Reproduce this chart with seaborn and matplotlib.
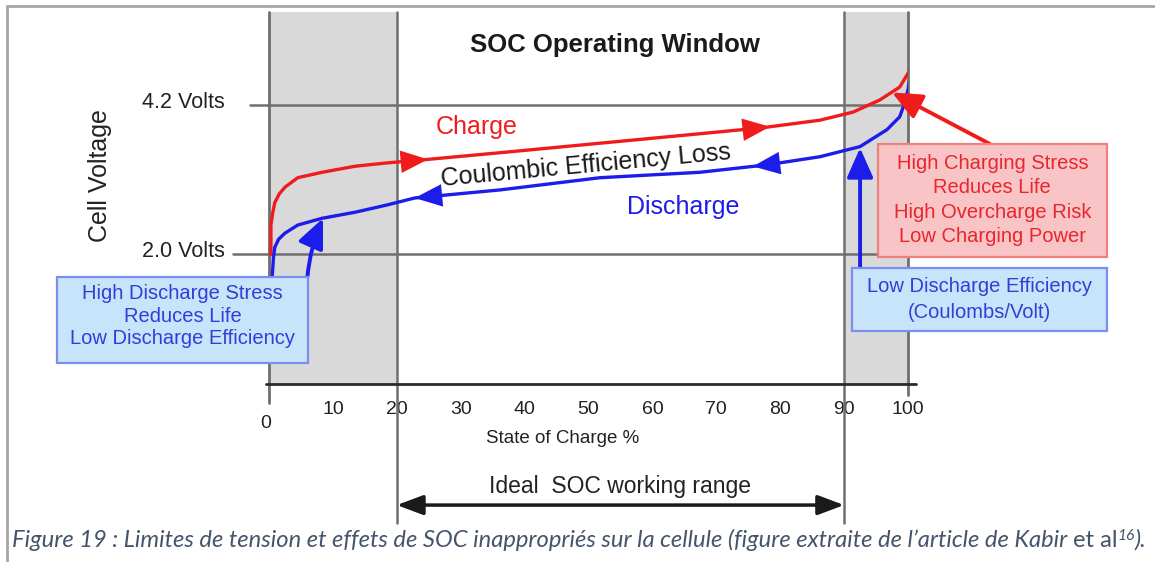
import numpy as np
import matplotlib
matplotlib.use('Agg')
import matplotlib.pyplot as plt
from matplotlib.patches import Rectangle
from matplotlib.lines import Line2D
import seaborn as sns

# courbes (SOC en %, tension en V)
charge_soc = [0.3, 0.3, 0.6, 0.9, 1.6, 2.5, 4.5, 8.3, 13.5, 18.6, 23.6, 36.2, 51.8, 67.4, 77.3, 86.2, 91.4, 95.6, 98.7, 100.3, 100.6]
charge_v = [1.99, 2.43, 2.62, 2.76, 2.89, 2.99, 3.13, 3.21, 3.30, 3.35, 3.39, 3.50, 3.64, 3.78, 3.87, 3.98, 4.10, 4.28, 4.47, 4.72, 4.83]
discharge_soc = [0.5, 0.7, 0.9, 1.5, 2.5, 4.5, 8.3, 13.5, 18.6, 22.8, 36.2, 51.8, 67.4, 77.9, 86.2, 92.5, 96.7, 98.7, 99.5, 100.0, 100.6]
discharge_v = [1.66, 1.95, 2.10, 2.22, 2.31, 2.43, 2.53, 2.62, 2.73, 2.83, 2.95, 3.13, 3.21, 3.32, 3.44, 3.59, 3.84, 4.03, 4.24, 4.43, 4.77]

volt_levels = [4.2, 2.0]
volt_labels = ['4.2 Volts', '2.0 Volts']
soc_ticks = [10, 20, 30, 40, 50, 60, 70, 80, 90, 100]
window = (20, 90)

left_box_lines = ['High Discharge Stress', 'Reduces Life', 'Low Discharge Efficiency']
red_box_lines = ['High Charging Stress', 'Reduces Life', 'High Overcharge Risk', 'Low Charging Power']
right_box_lines = ['Low Discharge Efficiency', '(Coulombs/Volt)']

RED = '#f01c1c'
BLUE = '#1c1ceb'
GREY = '#6f6f6f'

sns.set_style('white')
plt.rcParams['font.family'] = ['Liberation Sans', 'DejaVu Sans']

W, H = 1155, 562
fig = plt.figure(figsize=(W / 100, H / 100), dpi=100)
ax = fig.add_axes([269 / W, (H - 384) / H, 639 / W, 372 / H])
ax.set_xlim(0, 100)
ax.set_ylim(0.08, 5.58)
for s in ax.spines.values():
    s.set_visible(False)
ax.set_yticks([])

# zones hors fenetre
ax.axvspan(0, window[0], color='#d9d9d9', lw=0, zorder=0)
ax.axvspan(window[1], 100, color='#d9d9d9', lw=0, zorder=0)
ax.plot([0, 0], [-0.2, 5.58], color=GREY, lw=2, clip_on=False, zorder=1)
ax.plot([100, 100], [-0.08, 5.58], color=GREY, lw=2, clip_on=False, zorder=1)
for x in window:
    ax.plot([x, x], [-1.97, 5.58], color=GREY, lw=1.8, clip_on=False, zorder=1)

# niveaux de tension
ax.plot([-3.0, 100.5], [volt_levels[0]] * 2, color=GREY, lw=1.8, clip_on=False, zorder=1)
ax.plot([-5.6, 100.5], [volt_levels[1]] * 2, color=GREY, lw=1.8, clip_on=False, zorder=1)
for v, lab in zip(volt_levels, volt_labels):
    ax.text(-6.9, v + 0.04, lab, ha='right', va='center', fontsize=15.5, color='#222222')

# axe x
ax.plot([-0.4, 101.2], [0.08, 0.08], color='#2a2a2a', lw=2, clip_on=False, zorder=2)
ax.set_xticks(soc_ticks)
ax.set_xticklabels([str(t) for t in soc_ticks])
ax.tick_params(axis='x', direction='inout', length=15, width=1.8, color='#2a2a2a',
               pad=5, labelsize=14, labelcolor='#222222')
ax.text(-0.5, -0.5, '0', ha='center', va='center', fontsize=14, color='#222222')
ax.text(46, -0.72, 'State of Charge %', ha='center', va='center', fontsize=13.5, color='#222222')

# courbes
sns.lineplot(x=charge_soc, y=charge_v, sort=False, estimator=None, color=RED, lw=2.4, ax=ax, zorder=3)
sns.lineplot(x=discharge_soc, y=discharge_v, sort=False, estimator=None, color=BLUE, lw=2.4, ax=ax, zorder=3)


def head(soc_list, v_list, tip, tail, color):
    yt = np.interp(tip, soc_list, v_list)
    ya = np.interp(tail, soc_list, v_list)
    ax.annotate('', xy=(tip, yt), xytext=(tail, ya),
                arrowprops=dict(arrowstyle='-|>,head_length=1.1,head_width=0.45', mutation_scale=18,
                                color=color, lw=0, shrinkA=0, shrinkB=0), zorder=4)


head(charge_soc, charge_v, 24.9, 22.0, RED)
head(charge_soc, charge_v, 78.4, 75.5, RED)
head(discharge_soc, discharge_v, 22.8, 25.7, BLUE)
head(discharge_soc, discharge_v, 75.7, 78.6, BLUE)

ax.text(32.5, 3.88, 'Charge', ha='center', va='center', fontsize=18, color=RED)
ax.text(64.8, 2.69, 'Discharge', ha='center', va='center', fontsize=18, color=BLUE)
ax.text(49.6, 3.31, 'Coulombic Efficiency Loss', ha='center', va='center', fontsize=18,
        rotation=5.3, rotation_mode='anchor', color='#1a1a1a')

# encadres
def box(x0, x1, y0, y1, lines, ys, fc, ec, tc):
    ax.add_patch(Rectangle((x0, y0), x1 - x0, y1 - y0, fc=fc, ec=ec, lw=1.6, clip_on=False, zorder=5))
    xc = (x0 + x1) / 2
    for t, y in zip(lines, ys):
        ax.text(xc, y, t, ha='center', va='center', fontsize=14.5, color=tc, zorder=6, clip_on=False)


box(-33.2, 6.1, 0.39, 1.66, left_box_lines, [1.42, 1.08, 0.76], '#c8e4fb', '#7b8ff0', '#2f3fd8')
box(95.3, 131.1, 1.96, 3.63, red_box_lines, [3.34, 2.98, 2.62, 2.26], '#f8c4c6', '#f08080', '#e8262e')
box(91.2, 131.1, 0.86, 1.795, right_box_lines, [1.52, 1.14], '#c8e4fb', '#7b8ff0', '#2f3fd8')

# fleches d'annotation
ax.annotate('', xy=(8.45, 2.53), xytext=(6.0, 1.66),
            arrowprops=dict(arrowstyle='-|>,head_length=0.9,head_width=0.4', mutation_scale=20,
                            color=BLUE, lw=2.8, shrinkA=0, shrinkB=0,
                            connectionstyle='arc3,rad=-0.08'), zorder=4)
ax.annotate('', xy=(92.5, 3.57), xytext=(92.5, 1.795),
            arrowprops=dict(arrowstyle='-|>,head_length=0.9,head_width=0.4', mutation_scale=20,
                            color=BLUE, lw=2.8, shrinkA=0, shrinkB=0), zorder=4)
ax.annotate('', xy=(97.5, 4.39), xytext=(112.8, 3.63), annotation_clip=False,
            arrowprops=dict(arrowstyle='-|>,head_length=0.9,head_width=0.4', mutation_scale=20,
                            color=RED, lw=2.8, shrinkA=0, shrinkB=0), zorder=4)

# plage ideale
ax.annotate('', xy=(window[1], -1.71), xytext=(window[0], -1.71), annotation_clip=False,
            arrowprops=dict(arrowstyle='<|-|>,head_length=0.8,head_width=0.3', mutation_scale=20,
                            color='#1a1a1a', lw=2.5, shrinkA=0, shrinkB=0))
ax.text(sum(window) / 2, -1.44, 'Ideal  SOC working range', ha='center', va='center',
        fontsize=16.5, color='#222222')

# titre et axe y
fig.text(615 / W, 1 - 45 / H, 'SOC Operating Window', ha='center', va='center',
         fontsize=18.5, fontweight='bold', color='#1a1a1a')
fig.text(100 / W, 1 - 176 / H, 'Cell Voltage', ha='center', va='center', rotation=90,
         fontsize=18, color='#222222')

# cadre
fig.add_artist(Line2D([7 / W, 7 / W], [0, 1 - 6 / H], transform=fig.transFigure, color='#a6a6a6', lw=2))
fig.add_artist(Line2D([7 / W, 1], [1 - 6 / H, 1 - 6 / H], transform=fig.transFigure, color='#a6a6a6', lw=2))

# legende de la figure
cap_color = '#44546a'
cap_parts = [
    ("Figure 19 : Limites de tension et effets de SOC inappropriés sur la cellule (figure extraite de l’article de Kabir ", 'italic', 0),
    ('et al', 'normal', 0),
    ('16', 'italic', 7),
    (').', 'italic', 0),
]
fig.canvas.draw()
renderer = fig.canvas.get_renderer()
x = 12
for txt, style, dy in cap_parts:
    size = 11.2 if dy else 17.1
    t = fig.text(x / W, 1 - (547 - dy) / H, txt, ha='left', va='baseline', fontsize=size,
                 style=style, color=cap_color, family=['Lato', 'DejaVu Sans'])
    bb = t.get_window_extent(renderer)
    x = bb.x1

fig.savefig('out.png', dpi=100)
